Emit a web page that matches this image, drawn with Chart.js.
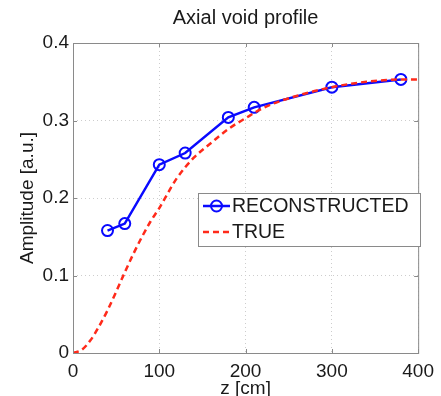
<!DOCTYPE html>
<html>
<head>
<meta charset="utf-8">
<script src="https://cdn.jsdelivr.net/npm/chart.js@4.4.1/dist/chart.umd.min.js"></script>
<style>
  html, body { margin: 0; padding: 0; background: #fff; }
  canvas { display: block; }
</style>
</head>
<body>
<canvas id="chart" width="441" height="396"></canvas>
<script>
// Reconstructed amplitude at the measurement positions
const zReconstructed = [40, 60, 100, 130, 180, 210, 300, 380];
const ampReconstructed = [0.158, 0.167, 0.243, 0.258, 0.304, 0.317, 0.343, 0.353];

// True axial void profile
const zTrue = [0, 10, 20, 30, 40, 50, 60, 70, 80, 90, 100, 120, 140, 160, 180, 200, 220, 240, 260, 280, 300, 320, 340, 360, 380, 400];
const ampTrue = [0, 0.004, 0.016, 0.034, 0.055, 0.079, 0.104, 0.128, 0.150, 0.170, 0.187, 0.225, 0.252, 0.271, 0.289, 0.303, 0.316, 0.325, 0.332, 0.338, 0.343, 0.347, 0.350, 0.352, 0.353, 0.353];

const seriesLabels = ["RECONSTRUCTED", "TRUE"];

const FONT = '"Liberation Sans", Arial, Helvetica, sans-serif';
const BLUE = "#0a0aff";
const RED = "#ff2a1a";

const toPoints = (xs, ys) => xs.map((x, i) => ({ x: x, y: ys[i] }));

// Axes box with inward ticks, plus the legend inside the plot
const framePlugin = {
    id: "frame",
    afterDraw(chart) {
        const { ctx, chartArea: a, scales } = chart;
        const x = scales.x, y = scales.y;
        ctx.save();
        ctx.strokeStyle = "#8a8a8a";
        ctx.lineWidth = 1;
        ctx.strokeRect(a.left + 0.5, a.top + 0.5, a.width, a.height);
        ctx.beginPath();
        x.ticks.forEach((t) => {
            const px = Math.round(x.getPixelForValue(t.value)) + 0.5;
            ctx.moveTo(px, a.bottom); ctx.lineTo(px, a.bottom - 4);
            ctx.moveTo(px, a.top); ctx.lineTo(px, a.top + 4);
        });
        y.ticks.forEach((t) => {
            const py = Math.round(y.getPixelForValue(t.value)) + 0.5;
            ctx.moveTo(a.left, py); ctx.lineTo(a.left + 4, py);
            ctx.moveTo(a.right, py); ctx.lineTo(a.right - 4, py);
        });
        ctx.stroke();

        // legend box
        const bx = 198, by = 193, bw = 222, bh = 53;
        ctx.fillStyle = "#ffffff";
        ctx.fillRect(bx, by, bw, bh);
        ctx.strokeStyle = "#8a8a8a";
        ctx.strokeRect(bx + 0.5, by + 0.5, bw, bh);

        const ds = chart.data.datasets;
        const rows = [206, 232];
        ds.forEach((d, i) => {
            const ry = rows[i];
            ctx.strokeStyle = d.borderColor;
            ctx.lineWidth = d.borderWidth;
            ctx.setLineDash(d.borderDash || []);
            ctx.beginPath();
            ctx.moveTo(203, ry);
            ctx.lineTo(230, ry);
            ctx.stroke();
            ctx.setLineDash([]);
            if (d.pointRadius > 0) {
                ctx.lineWidth = d.pointBorderWidth;
                ctx.beginPath();
                ctx.arc(216.5, ry, d.pointRadius, 0, Math.PI * 2);
                ctx.stroke();
            }
            ctx.fillStyle = "#1a1a1a";
            ctx.font = "19.5px " + FONT;
            ctx.textBaseline = "middle";
            ctx.textAlign = "left";
            ctx.fillText(d.label, 232, ry + 1);
        });
        ctx.restore();
    },
};

new Chart(document.getElementById("chart"), {
    type: "scatter",
    plugins: [framePlugin],
    data: {
        datasets: [
            {
                label: seriesLabels[0],
                data: toPoints(zReconstructed, ampReconstructed),
                showLine: true,
                borderColor: BLUE,
                borderWidth: 2.5,
                pointRadius: 5.5,
                pointBorderWidth: 2,
                pointBorderColor: BLUE,
                pointBackgroundColor: "rgba(0,0,0,0)",
                order: 2,
            },
            {
                label: seriesLabels[1],
                data: toPoints(zTrue, ampTrue),
                showLine: true,
                borderColor: RED,
                borderWidth: 2.5,
                borderDash: [6, 4],
                pointRadius: 0,
                cubicInterpolationMode: "monotone",
                order: 1,
            },
        ],
    },
    options: {
        responsive: false,
        animation: false,
        layout: { padding: { left: 0, right: 19, top: 0, bottom: 0 } },
        plugins: {
            legend: { display: false },
            tooltip: { enabled: false },
            title: {
                display: true,
                fullSize: false,
                text: "Axial void profile",
                color: "#1a1a1a",
                font: { family: FONT, size: 20, weight: "normal" },
                padding: { top: 6, bottom: 13 },
            },
        },
        scales: {
            x: {
                type: "linear",
                min: 0,
                max: 400,
                ticks: {
                    stepSize: 100,
                    color: "#1a1a1a",
                    font: { family: FONT, size: 19 },
                    padding: 7,
                    maxRotation: 0,
                },
                grid: { color: "#cdcdcd", drawTicks: false },
                border: { display: false, dash: [1, 3] },
                title: {
                    display: true,
                    text: "z [cm]",
                    color: "#1a1a1a",
                    font: { family: FONT, size: 19 },
                    padding: { top: 0, bottom: -4 },
                },
                afterFit: (scale) => { scale.height = 43; },
            },
            y: {
                type: "linear",
                min: 0,
                max: 0.4,
                ticks: {
                    stepSize: 0.1,
                    color: "#1a1a1a",
                    font: { family: FONT, size: 19 },
                    padding: 4,
                },
                grid: { color: "#cdcdcd", drawTicks: false },
                border: { display: false, dash: [1, 3] },
                title: {
                    display: true,
                    text: "Amplitude [a.u.]",
                    color: "#1a1a1a",
                    font: { family: FONT, size: 19 },
                    padding: { top: 16, bottom: 0 },
                },
                afterFit: (scale) => { scale.width = 73; },
            },
        },
    },
});
</script>
</body>
</html>
